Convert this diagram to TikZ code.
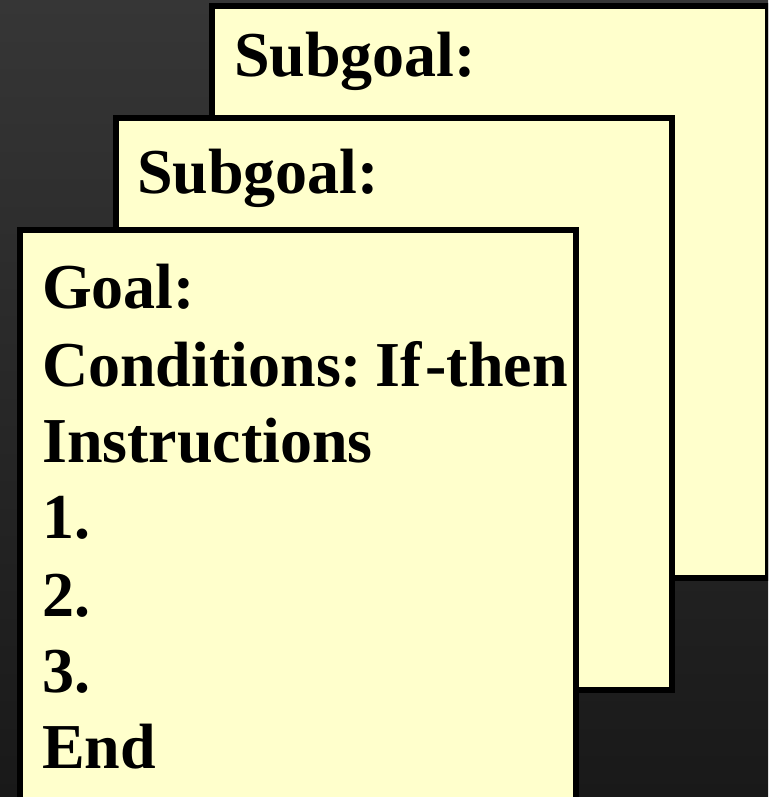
\documentclass[tikz,border=0pt]{standalone}
\usepackage{fontspec}
\setmainfont{Liberation Serif}
\definecolor{cardfill}{HTML}{FFFFCC}
\definecolor{bgtop}{HTML}{363636}
\definecolor{bgbottom}{HTML}{191919}
\begin{document}
\begin{tikzpicture}[x=1pt,y=-1pt,
  card/.style={draw=black, line width=6pt, fill=cardfill},
  lbl/.style={anchor=base west, inner sep=0pt, text=black,
              font=\fontsize{64}{64}\selectfont\bfseries}]
  % frame and dark backdrop
  \useasboundingbox (0,0) rectangle (768,797);
  \clip (0,0) rectangle (768,797);
  \shade[top color=bgtop, bottom color=bgbottom] (0,0) rectangle (768,797);

  % stacked cards, back to front
  \draw[card] (212,6) rectangle (768,578);
  \draw[card] (116,118) rectangle (672,690);
  \draw[card] (20,230) rectangle (576,830);

  % back card
  \node[lbl] (sub3) at (234,77) {Subgoal:};
  % middle card
  \node[lbl] (sub2) at (137,193) {Subgoal:};
  % front card
  \node[lbl] (goal)  at (42,308) {Goal:};
  \node[lbl] (cond)  at (42,386) {Conditions:\kern13pt If\kern4pt-then};
  \node[lbl] (instr) at (42,462) {Instructions};
  \node[lbl] (one)   at (42,538) {1.};
  \node[lbl] (two)   at (42,616) {2.};
  \node[lbl] (three) at (42,692) {3.};
  \node[lbl] (fin)   at (42,768) {End};
\end{tikzpicture}
\end{document}
